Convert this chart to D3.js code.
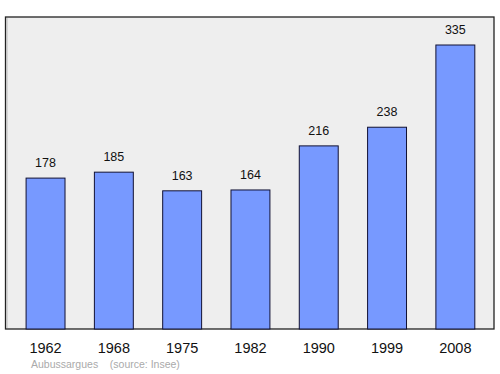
<!DOCTYPE html>
<html><head><meta charset="utf-8">
<script src="https://cdn.jsdelivr.net/npm/d3@7"></script>
<style>body{margin:0;background:#fff}svg{display:block}</style>
</head><body>
<svg id="c" width="500" height="374"></svg>
<script>
const years = ["1962","1968","1975","1982","1990","1999","2008"];
const population = [178,185,163,164,216,238,335];
const placeName = "Aubussargues";
const sourceLabel = "(source: Insee)";

const svg = d3.select("#c");
const frame = {x0:5.5, y0:17, x1:494, y1:329};

svg.append("rect").attr("x",frame.x0).attr("y",frame.y0)
  .attr("width",frame.x1-frame.x0).attr("height",frame.y1-frame.y0)
  .attr("fill","#eeeeee").attr("stroke","#222").attr("stroke-width",1.3);
svg.append("line").attr("x1",frame.x0+1.5).attr("x2",frame.x0+1.5)
  .attr("y1",frame.y0+1).attr("y2",frame.y1-1).attr("stroke","#bbb").attr("stroke-width",1);

const x = d3.scaleBand().domain(years).range([11.4,489.5]).paddingInner(0.43).paddingOuter(0.215);
const y = d3.scaleLinear().domain([0,335]).range([329,45]);

svg.selectAll("rect.bar").data(population).join("rect").attr("class","bar")
  .attr("x",(d,i)=>x(years[i])).attr("width",x.bandwidth())
  .attr("y",d=>y(d)).attr("height",d=>y(0)-y(d))
  .attr("fill","#7799ff").attr("stroke","#111133").attr("stroke-width",1);

svg.selectAll("text.val").data(population).join("text").attr("class","val")
  .attr("x",(d,i)=>x(years[i])+x.bandwidth()/2).attr("y",d=>y(d)-11)
  .attr("text-anchor","middle").attr("font-family","Liberation Sans, Arial, sans-serif")
  .attr("font-size",12.5).attr("fill","#111").text(d=>d);

const axis = d3.axisBottom(x).tickSize(0).tickPadding(0);
const g = svg.append("g").attr("transform","translate(0,353)").call(axis);
g.select(".domain").remove();
g.selectAll("text").attr("dy",0).attr("font-family","Liberation Sans, Arial, sans-serif")
  .attr("font-size",14.5).attr("fill","#111");

svg.append("text").attr("x",31).attr("y",368)
  .attr("font-family","Liberation Sans, Arial, sans-serif").attr("font-size",10.5)
  .attr("fill","#aaa").attr("xml:space","preserve")
  .text(placeName + "    " + sourceLabel);
</script>
</body></html>
